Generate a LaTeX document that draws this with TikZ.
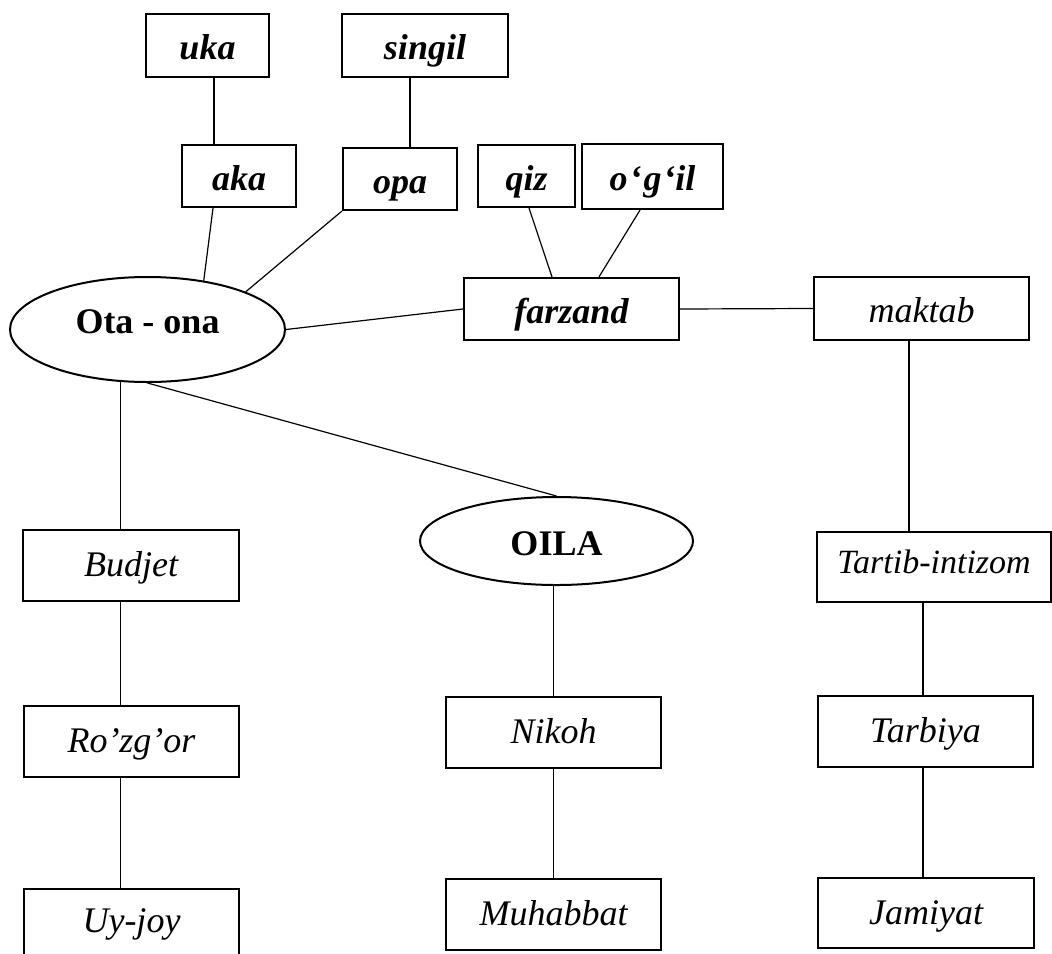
\documentclass[tikz,border=0pt]{standalone}
\usepackage{fontspec}
\setmainfont{Liberation Serif}
\usetikzlibrary{calc,positioning,shapes.geometric}

\begin{document}
\begin{tikzpicture}[x=0.5pt,y=-0.5pt,
    box/.style={draw,line width=1.1pt,inner sep=0pt,text height=12pt,text depth=1pt,
      font=\fontsize{18}{20}\selectfont\itshape},
    topbox/.style={box,text height=15pt,text depth=1pt},
    bbox/.style={topbox,font=\fontsize{18}{20}\selectfont\bfseries\itshape},
    oval/.style={draw,ellipse,line width=1pt,inner sep=0pt,
      font=\fontsize{18}{20}\selectfont\bfseries},
    link/.style={line width=0.6pt}]
  \clip (0,0) rectangle (1052,953);
  % qarindoshlar
  \node[bbox,minimum width=61.5pt,minimum height=31.5pt] (uka) at (207.5,45.5) {uka};
  \node[bbox,minimum width=83pt,minimum height=31.5pt] (singil) at (425,45.5) {singil};
  \node[bbox,minimum width=57pt,minimum height=31pt] (aka) at (239,176) {aka};
  \node[bbox,minimum width=57pt,minimum height=31pt] (opa) at (400,179) {opa};
  \node[bbox,minimum width=48.5pt,minimum height=31pt] (qiz) at (526.5,176) {qiz};
  \node[bbox,minimum width=70.5pt,minimum height=32.5pt] (ogil) at (652.5,176.5)
    {o\kern1pt\symbol{96}\kern1pt g\kern1pt\symbol{96}il};
  \node[bbox,minimum width=107.5pt,minimum height=31pt] (farzand) at (571.5,309) {farzand};
  \node[topbox,minimum width=107.5pt,minimum height=31.5pt] (maktab) at (921.5,308.5) {maktab};
  % asosiy tugunlar
  \node[oval,minimum width=137.5pt,minimum height=52.5pt,text height=6pt,text depth=2.5pt]
    (Ota) at (147.5,329.5) {Ota - ona};
  \node[oval,minimum width=136.5pt,minimum height=44pt,text height=15pt,text depth=1pt]
    (OILA) at (556.5,541) {OILA};
  % pastki qator
  \node[box,minimum width=108pt,minimum height=35.5pt] (budjet) at (131,565.5) {Budjet};
  \node[box,minimum width=117pt,minimum height=35pt,text height=7pt,
    font=\fontsize{17}{19}\selectfont\itshape] (tartib) at (934,567) {Tartib-intizom};
  \node[box,minimum width=107.5pt,minimum height=35.5pt] (rozgor) at (131.5,741.5) {Ro’zg’or};
  \node[box,minimum width=107.5pt,minimum height=35.5pt] (Nikoh) at (553.5,732.5) {Nikoh};
  \node[box,minimum width=107.5pt,minimum height=35.5pt] (tarbiya) at (925.5,731.5) {Tarbiya};
  \node[box,minimum width=107.5pt,minimum height=35.5pt,text height=9pt] (uyjoy) at (131.5,924.5) {Uy-joy};
  \node[box,minimum width=107.5pt,minimum height=35.5pt] (Muhabbat) at (553.5,914.5) {Muhabbat};
  \node[box,minimum width=108pt,minimum height=35pt] (jamiyat) at (926,913) {Jamiyat};

  \draw[link] (uka.south) ++(6.5,0) coordinate (u1) -- (u1 |- aka.north);
  \draw[link] (singil.south) ++(-15,0) coordinate (s1) -- (s1 |- opa.north);
  \draw[link] ($(aka.south)+(-26,0)$) -- (Ota.41);
  \draw[link] (opa.south west) -- (Ota.21);
  \draw[link] ($(qiz.south)+(2.5,0)$) -- ($(farzand.north)+(-19.5,0)$);
  \draw[link] ($(ogil.south)+(-12.5,0)$) -- ($(farzand.north)+(27.5,0)$);
  \draw[link] (farzand.west) -- (Ota.east);
  \draw[link] (farzand.east) -- (maktab.west);
  \draw[link] (Ota.south) -- (OILA.north);
  \draw[link] (Ota.243) -- (Ota.243 |- budjet.north);
  \draw[link] (Ota.243 |- budjet.south) -- (Ota.243 |- rozgor.north);
  \draw[link] (Ota.243 |- rozgor.south) -- (Ota.243 |- uyjoy.north);
  \draw[link] (Nikoh.north |- OILA.south) -- (Nikoh.north);
  \draw[link] (Nikoh.south) -- (Muhabbat.north);
  \draw[link] (maktab.south) ++(-12.5,0) coordinate (m1) -- (m1 |- tartib.north);
  \draw[link] (tarbiya.north) ++(-2.5,0) coordinate (t1) -- (t1 |- tartib.south);
  \draw[link] (t1 |- tarbiya.south) -- (t1 |- jamiyat.north);
\end{tikzpicture}
\end{document}
